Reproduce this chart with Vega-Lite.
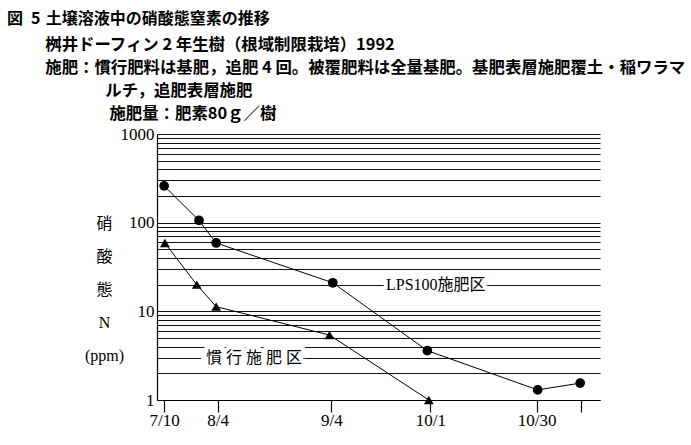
{
  "$schema": "https://vega.github.io/schema/vega-lite/v6.json",
  "width": 443,
  "height": 266,
  "autosize": "none",
  "padding": {"left": 157, "top": 134, "right": 91, "bottom": 45},
  "background": "white",
  "config": {"view": {"stroke": null}},
  "title": {
    "text": "図\u20025\u2004土壌溶液中の硝酸態窒素の推移",
    "subtitle": [
      "\u200b\u3000\u3000\u2004桝井ドーフィン 2 年生樹（根域制限栽培）1992",
      "\u200b\u3000\u3000\u2004施肥：慣行肥料は基肥，追肥 4 回。被覆肥料は全量基肥。基肥表層施肥覆土・稲ワラマ",
      "\u200b\u3000\u3000\u3000\u3000\u3000\u3000ルチ，追肥表層施肥",
      "\u200b\u3000\u3000\u3000\u3000\u3000\u3000\u2005施肥量：肥素80ｇ／樹"
    ],
    "anchor": "start",
    "frame": "group",
    "dx": -150,
    "offset": 3,
    "font": "Noto Sans CJK JP",
    "fontSize": 16,
    "fontWeight": "bold",
    "color": "black",
    "subtitleFont": "Noto Sans CJK JP",
    "subtitleFontSize": 16.4,
    "subtitleFontWeight": "bold",
    "subtitleColor": "black",
    "subtitleLineHeight": 23,
    "subtitlePadding": 10
  },
  "datasets": {
    "series": [
      {"series": "LPS100", "day": 19.4, "ppm": 260},
      {"series": "LPS100", "day": 28.9, "ppm": 106},
      {"series": "LPS100", "day": 33.6, "ppm": 59},
      {"series": "LPS100", "day": 65.4, "ppm": 21},
      {"series": "LPS100", "day": 91.2, "ppm": 3.6},
      {"series": "LPS100", "day": 121.3, "ppm": 1.3},
      {"series": "LPS100", "day": 132.9, "ppm": 1.55},
      {"series": "慣行", "day": 19.6, "ppm": 59},
      {"series": "慣行", "day": 28.3, "ppm": 20},
      {"series": "慣行", "day": 33.6, "ppm": 11.3},
      {"series": "慣行", "day": 64.5, "ppm": 5.4},
      {"series": "慣行", "day": 91.6, "ppm": 1.0}
    ],
    "labels": [
      {"day": 93.5, "ppm": 20, "label": "LPS100施肥区"},
      {"day": 43.9, "ppm": 3, "label": "慣 行 施 肥 区"}
    ]
  },
  "encoding": {
    "x": {
      "field": "day",
      "type": "quantitative",
      "scale": {"domain": [17.45, 138.3], "nice": false, "zero": false},
      "axis": {
        "title": null,
        "values": [19.4, 34, 65, 92, 121, 133],
        "labelExpr": "datum.value < 20 ? '7/10' : datum.value < 40 ? '8/4' : datum.value < 70 ? '9/4' : datum.value < 100 ? '10/1' : datum.value < 125 ? '10/30' : ''",
        "grid": false,
        "domainColor": "black",
        "domainWidth": 1.2,
        "tickColor": "black",
        "tickWidth": 1.2,
        "tickSize": 12,
        "labelFont": "Liberation Serif",
        "labelFontSize": 17,
        "labelColor": "black",
        "labelPadding": 0,
        "labelFlush": false
      }
    },
    "y": {
      "field": "ppm",
      "type": "quantitative",
      "scale": {"type": "log", "domain": [1, 1000], "nice": false},
      "axis": {
        "values": [1, 2, 3, 4, 5, 6, 7, 8, 9, 10, 20, 30, 40, 50, 60, 70, 80, 90, 100, 200, 300, 400, 500, 600, 700, 800, 900, 1000],
        "labelExpr": "indexof([1, 10, 100, 1000], datum.value) >= 0 ? '' + datum.value : ''",
        "ticks": false,
        "grid": true,
        "gridColor": "#111111",
        "gridWidth": 1.1,
        "gridOpacity": 1,
        "domainColor": "black",
        "domainWidth": 1.2,
        "labelFont": "Liberation Serif",
        "labelFontSize": 17,
        "labelColor": "black",
        "labelPadding": 3,
        "labelFlush": false,
        "title": ["硝", "酸", "態", "N", "(ppm)"],
        "titleAngle": 0,
        "titleAlign": "center",
        "titleBaseline": "top",
        "titleX": -53,
        "titleY": 81,
        "titleLineHeight": 33,
        "titleFont": "Liberation Serif, Noto Sans CJK JP",
        "titleFontSize": 16,
        "titleFontWeight": "normal",
        "titleColor": "black"
      }
    }
  },
  "layer": [
    {
      "data": {"name": "series"},
      "mark": {"type": "line", "color": "black", "strokeWidth": 1},
      "encoding": {"detail": {"field": "series"}}
    },
    {
      "data": {"name": "series"},
      "mark": {"type": "point", "filled": true, "color": "black", "opacity": 1},
      "encoding": {
        "shape": {
          "field": "series",
          "scale": {"domain": ["LPS100", "慣行"], "range": ["circle", "triangle-up"]},
          "legend": null
        },
        "size": {
          "field": "series",
          "scale": {"domain": ["LPS100", "慣行"], "range": [95, 95]},
          "legend": null
        }
      }
    },
    {
      "data": {"name": "labels"},
      "mark": {"type": "text", "font": "Liberation Serif, Noto Sans CJK JP", "fontSize": 16, "color": "white", "stroke": "white", "strokeWidth": 8, "baseline": "middle"},
      "encoding": {"text": {"field": "label"}}
    },
    {
      "data": {"name": "labels"},
      "mark": {"type": "text", "font": "Liberation Serif, Noto Sans CJK JP", "fontSize": 16, "color": "black", "baseline": "middle"},
      "encoding": {"text": {"field": "label"}}
    }
  ]
}
